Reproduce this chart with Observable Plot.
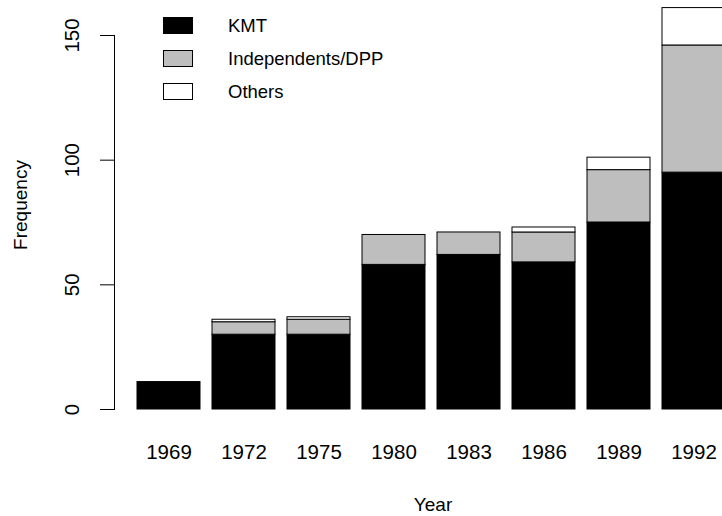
<!DOCTYPE html>
<html>
<head>
<meta charset="utf-8">
<script src="https://cdn.jsdelivr.net/npm/d3@7"></script>
<script src="https://cdn.jsdelivr.net/npm/@observablehq/plot@0.6"></script>
<style>
  html, body { margin: 0; padding: 0; background: #fff; overflow: hidden; }
  #chart svg { display: block; max-width: none !important; }
</style>
</head>
<body>
<div id="chart"></div>
<script>
const years = ["1969", "1972", "1975", "1980", "1983", "1986", "1989", "1992"];
const parties = ["KMT", "Independents/DPP", "Others"];
const kmt = [11, 30, 30, 58, 62, 59, 75, 95];
const independents = [0, 5, 6, 12, 9, 12, 21, 51];
const others = [0, 1, 1, 0, 0, 2, 5, 15];
const partyColors = ["#000000", "#BEBEBE", "#FFFFFF"];
const yTicks = [0, 50, 100, 150];

const series = [kmt, independents, others];
const rows = [];
years.forEach((yr, i) => {
  parties.forEach((p, j) => {
    rows.push({year: yr, party: p, value: series[j][i]});
  });
});

const font = "'Liberation Sans', Arial, Helvetica, sans-serif";

function legendMark(index, scales, values, dimensions) {
  const g = d3.create("svg:g").attr("font-family", font).attr("font-size", 18.5).attr("text-anchor", "start");
  parties.forEach((p, i) => {
    const y0 = 17.5 + i * 33;
    g.append("rect")
      .attr("x", 163.5).attr("y", y0)
      .attr("width", 29).attr("height", 16)
      .attr("fill", scales.color(p))
      .attr("stroke", "#000").attr("stroke-width", 1);
    g.append("text")
      .attr("x", 228).attr("y", y0 + 8.5)
      .attr("dy", "0.35em")
      .attr("fill", "#000")
      .text(p);
  });
  return g.node();
}

function yAxisLine(index, scales, values, dimensions) {
  const x = dimensions.marginLeft - 0.5;
  return d3.create("svg:line")
    .attr("x1", x).attr("x2", x)
    .attr("y1", scales.y(yTicks[0]))
    .attr("y2", scales.y(yTicks[yTicks.length - 1]))
    .attr("stroke", "#000").attr("stroke-width", 1)
    .node();
}

const chart = Plot.plot({
  width: 760,
  height: 516,
  marginLeft: 115,
  marginRight: 10,
  marginTop: 0,
  marginBottom: 107,
  style: {fontFamily: font, fontSize: "19px", background: "#fff", color: "#000"},
  x: {domain: years, range: [137, 731], paddingInner: 1 / 6, paddingOuter: 0, align: 0},
  y: {domain: [0, 150], range: [409, 35]},
  color: {domain: parties, range: partyColors},
  marks: [
    Plot.barY(rows, {
      x: "year", y: "value", fill: "party", order: parties,
      stroke: "#000", strokeWidth: 1
    }),
    Plot.axisX({tickSize: 0, tickPadding: 35, fontSize: 20.5, label: null}),
    Plot.axisX({tickSize: 0, ticks: [], label: "Year", labelAnchor: "center", labelArrow: "none", labelOffset: 101, fontSize: 19}),
    Plot.axisY({ticks: yTicks, tickSize: 15, tickRotate: -90, tickPadding: 22, fontSize: 20.5, label: null}),
    Plot.axisY({ticks: [], tickSize: 0, label: "Frequency", labelAnchor: "center", labelArrow: "none", labelOffset: 102, fontSize: 19}),
    yAxisLine,
    legendMark
  ]
});
document.getElementById("chart").appendChild(chart);
</script>
</body>
</html>
